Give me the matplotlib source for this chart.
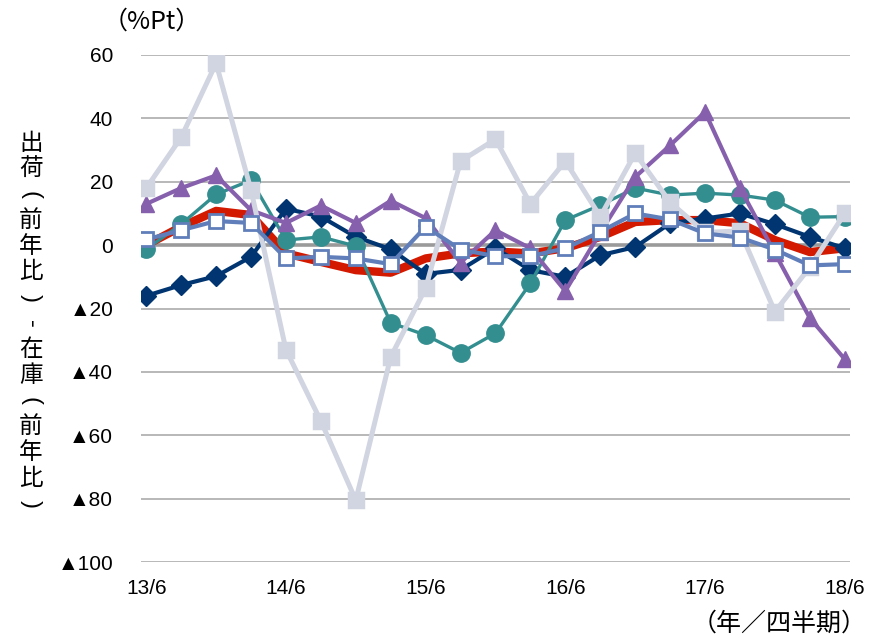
"""
Shipment minus inventory (YoY) by category, quarterly 13/6 - 18/6.
"""
import matplotlib
matplotlib.use("Agg")
import matplotlib.pyplot as plt
import numpy as np

quarters = ["13/6", "13/9", "13/12", "14/3", "14/6", "14/9", "14/12", "15/3",
            "15/6", "15/9", "15/12", "16/3", "16/6", "16/9", "16/12", "17/3",
            "17/6", "17/9", "17/12", "18/3", "18/6"]

total = [0, 5.8, 10.8, 9.5, -2.6, -5.3, -7.9, -8.7, -4.2, -2.6, -2.0,
         -2.6, -1.0, 2.6, 7.3, 7.9, 7.9, 6.9, 1.6, -2.2, -1.0]
navy = [-16, -12.6, -9.8, -3.7, 11.5, 9.0, 2.6, -1.3, -9.1, -7.8, -1.0,
        -7.9, -10.0, -3.2, -0.6, 6.9, 8.4, 10.0, 6.6, 2.6, -1.0]
teal = [-1.3, 6.6, 16.0, 20.5, 1.6, 2.6, -0.3, -24.5, -28.4, -34.0, -27.8,
        -12.0, 7.9, 12.6, 18.0, 15.8, 16.4, 15.8, 14.2, 8.8, 9.0]
purple = [13.0, 18.0, 22.0, 11.0, 7.0, 12.5, 7.0, 14.0, 8.5, -5.5, 4.7,
          -1.0, -14.5, 4.0, 21.5, 31.5, 42.0, 18.0, -2.5, -23.0, -36.0]
lightgray = [18.0, 34.0, 57.4, 17.4, -33.0, -55.5, -80.5, -35.3, -13.6, 26.5, 33.4,
             13.0, 26.5, 9.0, 29.0, 13.5, 4.0, 4.5, -21.0, -7.0, 10.0]
bluewhite = [1.8, 4.7, 7.6, 7.0, -4.2, -3.7, -4.2, -6.0, 5.8, -1.4, -3.5,
             -3.5, -1.0, 4.2, 10.0, 8.1, 3.7, 2.4, -1.4, -6.4, -6.0]

yticks = [60, 40, 20, 0, -20, -40, -60, -80, -100]
ytick_labels = ["60", "40", "20", "0", "▲20", "▲40", "▲60", "▲80", "▲100"]
# vertical axis title, one glyph per row; brackets/dash get rotated
ylabel_chars = ["出", "荷", "(", "前", "年", "比", ")", "-",
                "在", "庫", "(", "前", "年", "比", ")"]

JP = ["Noto Sans CJK JP", "DejaVu Sans"]
NUM = ["Liberation Sans", "Noto Sans CJK JP", "DejaVu Sans"]

fig = plt.figure(figsize=(8.7, 6.38), dpi=100)
ax = fig.add_axes([141 / 870, 1 - 562 / 638, 709 / 870, 507 / 638])

x = np.arange(len(quarters))

ax.plot(x, total, color="#D31A00", lw=6, solid_joinstyle="round",
        solid_capstyle="round", zorder=3)
ax.plot(x, navy, color="#003571", lw=3, marker="D", ms=10,
        mfc="#003571", mec="#003571", zorder=4)
ax.plot(x, teal, color="#338E90", lw=2.4, marker="o", ms=12.5,
        mfc="#338E90", mec="#338E90", zorder=5)
ax.plot(x, purple, color="#8760AD", lw=3, marker="^", ms=12,
        mfc="#8760AD", mec="#8760AD", zorder=6)
ax.plot(x, lightgray, color="#D1D5E1", lw=3.6, marker="s", ms=10.5,
        mfc="#D1D5E1", mec="#D1D5E1", mew=2.5, zorder=7)
ax.plot(x, bluewhite, color="#607FBA", lw=3, marker="s", ms=10,
        mfc="white", mec="#607FBA", mew=2, zorder=8)

ax.set_xlim(-0.15, len(quarters) - 1 + 0.15)
ax.set_ylim(-100, 60)
ax.set_yticks(yticks)
ax.set_yticklabels(ytick_labels, fontsize=15, family=NUM)
ax.set_xticks(x[::4])
ax.set_xticklabels(quarters[::4], fontsize=15, family=NUM)
ax.tick_params(length=0)
ax.tick_params(axis="y", pad=20)
ax.tick_params(axis="x", pad=12)

for v in yticks:
    if v == 0:
        ax.axhline(v, color="#9A9A9A", lw=2.6, zorder=1)
    else:
        ax.axhline(v, color="#ABABAB", lw=1.2, zorder=1)
for s in ax.spines.values():
    s.set_visible(False)

fig.text(152 / 870, 1 - 22 / 638, "（%Pt）", fontsize=18, family=JP,
         ha="center", va="center")
fig.text(867 / 870, 1 - 624 / 638, "（年／四半期）", fontsize=18, family=JP,
         ha="right", va="center")

y0, step = 143, 25.8
for i, ch in enumerate(ylabel_chars):
    if ch in "()-":
        fig.text(31 / 870, 1 - (y0 + i * step) / 638, ch, fontsize=17,
                 family=NUM, ha="center", va="center", rotation=-90)
    else:
        fig.text(31 / 870, 1 - (y0 + i * step) / 638, ch, fontsize=17,
                 family=JP, ha="center", va="center")

fig.savefig("out.png", dpi=100)
